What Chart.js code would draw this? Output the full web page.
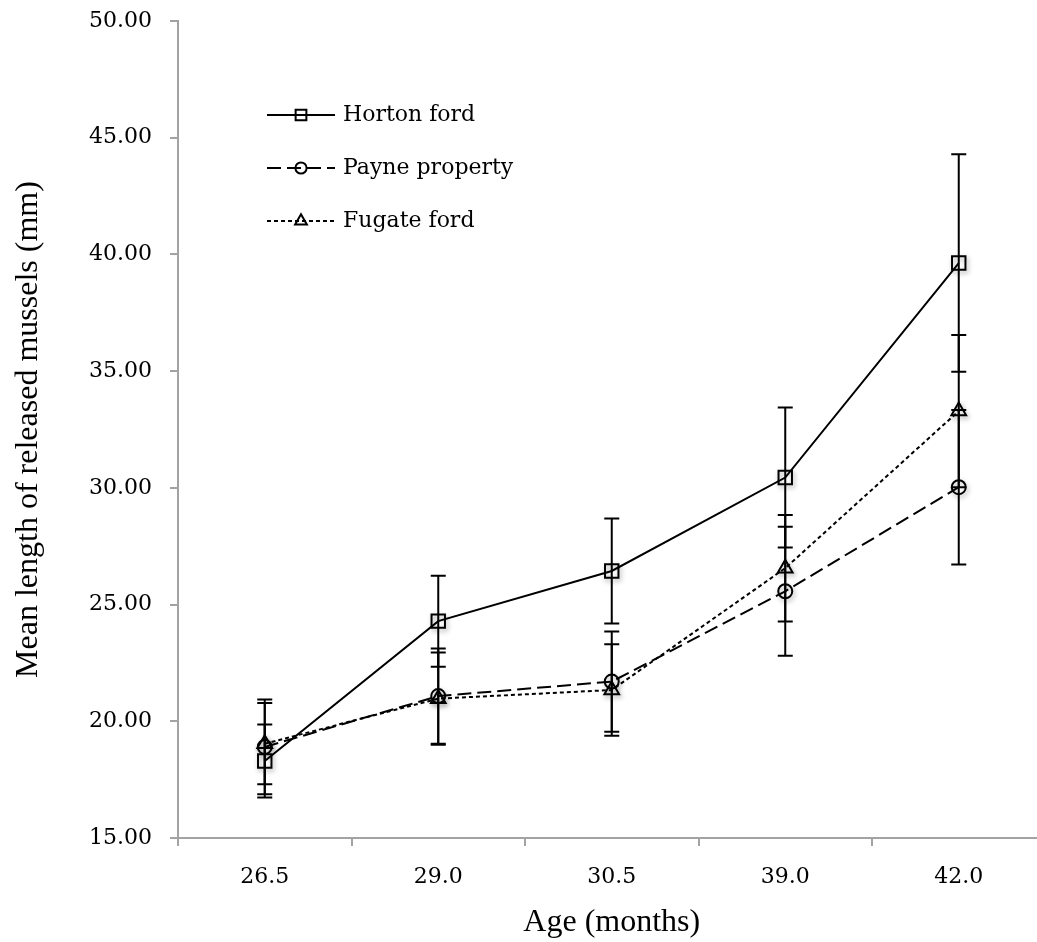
<!DOCTYPE html>
<html>
<head>
<meta charset="utf-8">
<script src="https://cdn.jsdelivr.net/npm/chart.js@4.4.1/dist/chart.umd.min.js"></script>
<style>
  html, body { margin: 0; padding: 0; overflow: hidden; background: #ffffff; }
  #wrap { position: relative; width: 1057px; height: 942px; }
</style>
</head>
<body>
<div id="wrap"><canvas id="chart"></canvas></div>
<script>
// Age at release (months) and mean shell length ± SD (mm) per site
const ages = ['26.5', '29.0', '30.5', '39.0', '42.0'];

const hortonMean = [18.30, 24.29, 26.44, 30.44, 39.63];
const hortonSD   = [1.56, 1.95, 2.25, 3.00, 4.66];

const payneMean  = [18.90, 21.08, 21.70, 25.57, 30.03];
const payneSD    = [2.03, 2.04, 2.15, 2.76, 3.31];

const fugateMean = [19.04, 20.97, 21.34, 26.56, 33.29];
const fugateSD   = [1.74, 1.98, 1.96, 2.28, 3.26];

const yMin = 15, yMax = 50, yStep = 5;

const siteNames = ['Horton ford', 'Payne property', 'Fugate ford'];

const AXIS_GREY = '#a3a3a3';
const INK = '#000000';

const series = [
  { label: siteNames[0], mean: hortonMean, sd: hortonSD, pointStyle: 'rect',     radius: 9.5, dash: [] },
  { label: siteNames[1], mean: payneMean,  sd: payneSD,  pointStyle: 'circle',   radius: 7,   dash: [14, 6] },
  { label: siteNames[2], mean: fugateMean, sd: fugateSD, pointStyle: 'triangle', radius: 8.5, dash: [4, 3] }
];

// Each site: one dataset for the connecting line, one for the hollow markers
const datasets = [];
series.forEach((s) => {
  datasets.push({
    label: s.label,
    data: s.mean,
    borderColor: INK,
    borderWidth: 2,
    borderDash: s.dash,
    pointRadius: 0,
    tension: 0,
    fill: false,
    order: 3,
    _role: 'line'
  });
});
series.forEach((s) => {
  datasets.push({
    label: s.label + ' markers',
    data: s.mean,
    showLine: false,
    borderColor: INK,
    backgroundColor: 'rgba(0,0,0,0)',
    pointStyle: s.pointStyle,
    pointRadius: s.radius,
    pointBorderWidth: 2,
    pointBorderColor: INK,
    pointBackgroundColor: 'rgba(0,0,0,0)',
    order: 1,
    _role: 'marker'
  });
});

// Soft drop shadow under the markers only
const markerShadow = {
  id: 'markerShadow',
  beforeDatasetDraw(chart, args) {
    if (args.meta._dataset._role !== 'marker') return;
    const ctx = chart.ctx;
    ctx.save();
    ctx.shadowColor = 'rgba(0,0,0,0.35)';
    ctx.shadowBlur = 5;
    ctx.shadowOffsetX = 1.5;
    ctx.shadowOffsetY = 2.5;
  },
  afterDatasetDraw(chart, args) {
    if (args.meta._dataset._role !== 'marker') return;
    chart.ctx.restore();
  }
};

// Vertical ±SD whiskers with end caps
const errorBars = {
  id: 'errorBars',
  afterDatasetsDraw(chart) {
    const ctx = chart.ctx;
    const xs = chart.scales.x, ys = chart.scales.y;
    const cap = 7.5;
    ctx.save();
    ctx.strokeStyle = INK;
    ctx.lineWidth = 2;
    ctx.setLineDash([]);
    series.forEach((s) => {
      s.mean.forEach((m, i) => {
        const x = xs.getPixelForValue(i);
        const yt = ys.getPixelForValue(m + s.sd[i]);
        const yb = ys.getPixelForValue(m - s.sd[i]);
        ctx.beginPath();
        ctx.moveTo(x, yt); ctx.lineTo(x, yb);
        ctx.moveTo(x - cap, yt); ctx.lineTo(x + cap, yt);
        ctx.moveTo(x - cap, yb); ctx.lineTo(x + cap, yb);
        ctx.stroke();
      });
    });
    ctx.restore();
  }
};

function drawMarker(ctx, style, r, x, y) {
  if (Chart.helpers && Chart.helpers.drawPoint) {
    Chart.helpers.drawPoint(ctx, { pointStyle: style, radius: r, rotation: 0, borderWidth: 2 }, x, y);
    return;
  }
  ctx.beginPath();
  if (style === 'rect') {
    const h = r * Math.SQRT1_2;
    ctx.rect(x - h, y - h, 2 * h, 2 * h);
  } else if (style === 'circle') {
    ctx.arc(x, y, r, 0, Math.PI * 2);
  } else {
    ctx.moveTo(x, y - r);
    ctx.lineTo(x + r * 0.866, y + r / 2);
    ctx.lineTo(x - r * 0.866, y + r / 2);
    ctx.closePath();
  }
  ctx.stroke();
}

// Key in the upper-left of the plot: line sample, marker, site name
const siteKey = {
  id: 'siteKey',
  afterDraw(chart) {
    const ctx = chart.ctx;
    const x0 = 267, x1 = 335, xm = 301, xt = 343;
    const rows = [115, 168, 221];
    ctx.save();
    series.forEach((s, k) => {
      const y = rows[k];
      ctx.strokeStyle = INK;
      ctx.fillStyle = 'rgba(0,0,0,0)';
      ctx.lineWidth = 2;
      ctx.setLineDash(s.dash);
      ctx.beginPath();
      ctx.moveTo(x0, y); ctx.lineTo(x1, y);
      ctx.stroke();
      ctx.setLineDash([]);
      drawMarker(ctx, s.pointStyle, s.radius * 0.8, xm, y);
      ctx.fillStyle = INK;
      ctx.font = '22px "DejaVu Serif"';
      ctx.textAlign = 'left';
      ctx.textBaseline = 'middle';
      ctx.fillText(s.label, xt, y);
    });
    ctx.restore();
  }
};

Chart.defaults.font.family = '"DejaVu Serif", serif';
Chart.defaults.color = INK;

new Chart(document.getElementById('chart'), {
  type: 'line',
  data: { labels: ages, datasets: datasets },
  plugins: [markerShadow, errorBars, siteKey],
  options: {
    responsive: true,
    maintainAspectRatio: false,
    animation: false,
    layout: { padding: { top: 0, right: 0, bottom: 0, left: 0 } },
    plugins: { legend: { display: false }, tooltip: { enabled: false } },
    scales: {
      x: {
        type: 'category',
        offset: true,
        grid: { offset: true, drawOnChartArea: false, drawTicks: true, tickLength: 8, color: AXIS_GREY, lineWidth: 2 },
        border: { display: true, color: AXIS_GREY, width: 2 },
        ticks: { color: INK, padding: 18, maxRotation: 0, font: { size: 22 } },
        title: {
          display: true, text: 'Age (months)', color: INK,
          font: { family: '"Liberation Serif", serif', size: 32 },
          padding: { top: 4, bottom: 0 }
        },
        afterFit(scale) { scale.height = 104; }
      },
      y: {
        min: yMin, max: yMax,
        grid: { drawOnChartArea: false, drawTicks: true, tickLength: 8, color: AXIS_GREY, lineWidth: 2 },
        border: { display: true, color: AXIS_GREY, width: 2 },
        ticks: {
          stepSize: yStep, color: INK, padding: 18, font: { size: 22 },
          callback: (v) => Number(v).toFixed(2)
        },
        title: {
          display: true, text: 'Mean length of released mussels (mm)', color: INK,
          font: { family: '"Liberation Serif", serif', size: 32 },
          padding: { top: 9, bottom: 0 }
        },
        afterFit(scale) { scale.width = 178; scale.paddingTop = 21; }
      }
    }
  }
});
</script>
</body>
</html>
